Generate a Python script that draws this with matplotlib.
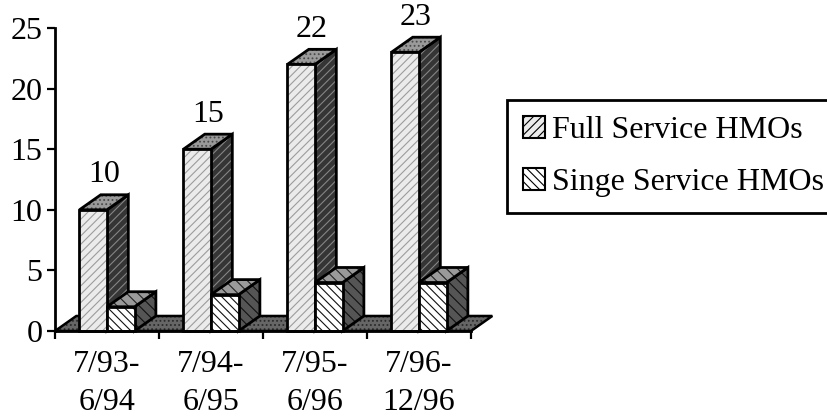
import matplotlib
matplotlib.use("Agg")
import matplotlib.pyplot as plt
from matplotlib.patches import Polygon, Rectangle

plt.rcParams['font.family'] = ['Liberation Serif', 'DejaVu Serif']
plt.rcParams['hatch.linewidth'] = 0.8

# ---- data ----
categories = ["7/93-\n6/94", "7/94-\n6/95", "7/95-\n6/96", "7/96-\n12/96"]
full_service = [10, 15, 22, 23]
single_service = [2, 3, 4, 4]
series_names = ["Full Service HMOs", "Singe Service HMOs"]
y_ticks = [0, 5, 10, 15, 20, 25]

FS = 23

# ---- pseudo-3D geometry (data units) ----
bar_w = 0.265          # width of each bar front
depth_x = 0.205        # oblique depth offset along x
depth_y = 1.24         # oblique depth offset along y

# face styles: (front, top, side) -> (facecolor, hatch, hatchcolor)
styles = {
    "full": {
        "front": ("#ebebeb", "////", "#9c9c9c"),
        "top": ("#9a9a9a", "....", "#4a4a4a"),
        "side": ("#353535", "////", "#858585"),
    },
    "single": {
        "front": ("#ffffff", "\\\\\\\\", "#111111"),
        "top": ("#9a9a9a", "\\\\\\", "#222222"),
        "side": ("#555555", "\\\\\\", "#111111"),
    },
}
floor_style = ("#666666", "....", "#2a2a2a")

fig = plt.figure(figsize=(8.27, 4.19), dpi=100)
ax = fig.add_axes([55 / 827, 88 / 419, 437 / 827, 303 / 419])
n = len(categories)
ax.set_xlim(-0.5, -0.5 + 437 / 104)
ax.set_ylim(0, 25)


def face(xs, ys, style, z, lw=2.0):
    fc, hatch, hc = style
    pts = list(zip(xs, ys))
    ax.add_patch(Polygon(pts, closed=True, facecolor=fc, edgecolor="none",
                         lw=0, zorder=z, clip_on=False))
    ax.add_patch(Polygon(pts, closed=True, facecolor="none", edgecolor=hc,
                         hatch=hatch, lw=0, zorder=z + 0.01, clip_on=False))
    ax.add_patch(Polygon(pts, closed=True, facecolor="none", edgecolor="black",
                         lw=lw, joinstyle="miter", zorder=z + 0.02, clip_on=False))


def bar3d(x0, h, kind, z):
    x1 = x0 + bar_w
    st = styles[kind]
    face([x1, x1 + depth_x, x1 + depth_x, x1],
         [0, depth_y, h + depth_y, h], st["side"], z)
    face([x0, x1, x1 + depth_x, x0 + depth_x],
         [h, h, h + depth_y, h + depth_y], st["top"], z + 0.1)
    face([x0, x1, x1, x0], [0, 0, h, h], st["front"], z + 0.2)


# floor
x_left, x_right = -0.5, n - 0.5
face([x_left, x_right, x_right + depth_x, x_left + depth_x],
     [0, 0, depth_y, depth_y], floor_style, 1, lw=1.8)

# bars, left to right so right-hand faces overlap correctly
z = 2
for i, (fv, sv) in enumerate(zip(full_service, single_service)):
    bar3d(i - bar_w, fv, "full", z)
    z += 1
    bar3d(i, sv, "single", z)
    z += 1
    ax.annotate(str(fv), xy=(i - bar_w / 2 + depth_x / 2, fv + depth_y),
                xytext=(0, 4), textcoords="offset points",
                ha="center", va="bottom", fontsize=FS, zorder=50)

# axes styling
for s in ("top", "right"):
    ax.spines[s].set_visible(False)
for s in ("left", "bottom"):
    ax.spines[s].set_linewidth(2.0)
    ax.spines[s].set_zorder(40)
ax.spines["bottom"].set_bounds(x_left, x_right)
ax.spines["left"].set_bounds(0, 25)
ax.patch.set_visible(False)

ax.set_yticks(y_ticks)
ax.set_yticklabels([str(v) for v in y_ticks])
ax.tick_params(axis="y", direction="out", length=6, width=1.6, pad=3,
               labelsize=FS)

ax.set_xticks([x_left + k for k in range(n + 1)])
ax.set_xticklabels([""] * (n + 1))
ax.tick_params(axis="x", which="major", direction="out", length=6, width=1.6)
ax.set_xticks(range(n), minor=True)
ax.set_xticklabels(categories, minor=True, fontsize=FS, linespacing=1.4)
ax.tick_params(axis="x", which="minor", length=0, pad=14)

# legend
handles = []
for kind in ("full", "single"):
    fc, hatch, hc = styles[kind]["front"]
    handles.append(Rectangle((0, 0), 1, 1, facecolor=fc, edgecolor="black",
                             hatch=hatch, lw=1.5))
leg = fig.legend(handles, series_names, loc="upper left",
                 bbox_to_anchor=(507 / 827, 1 - 100 / 419),
                 fontsize=FS, frameon=True, fancybox=False, framealpha=1,
                 edgecolor="black", borderpad=0.5, borderaxespad=0,
                 handlelength=0.7, handleheight=0.7, handletextpad=0.22,
                 labelspacing=0.7)
leg.get_frame().set_linewidth(2.0)

fig.savefig("out.png", dpi=100)
